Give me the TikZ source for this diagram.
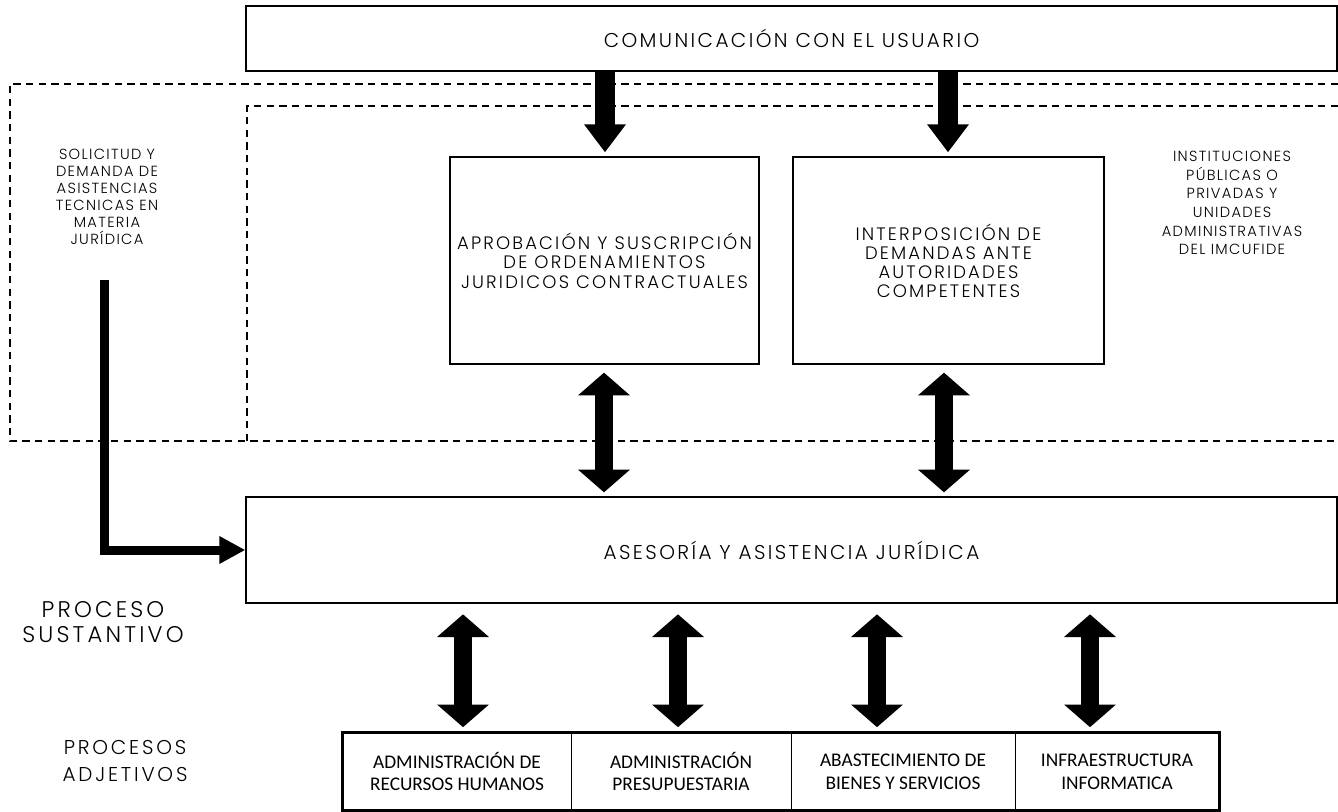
\documentclass[tikz,border=0pt]{standalone}
\usepackage{fontspec}
\setmainfont{Poppins}
\newfontfamily\geotop{Poppins Light}[LetterSpace=12.0]
\newfontfamily\geobox{Poppins Light}[LetterSpace=12.0]
\newfontfamily\geo{Poppins Light}[LetterSpace=9.0]
\newfontfamily\geobig{Poppins Light}[LetterSpace=14.0]
\newfontfamily\gill{Carlito}
\usetikzlibrary{arrows.meta}
\begin{document}
\begin{tikzpicture}[x=0.75pt,y=-0.75pt,
  box/.style={draw, line width=1pt, inner sep=0pt, align=center},
  cell/.style={draw, line width=0.7pt, inner sep=0pt, align=center,
    minimum height=57.75pt, font=\gill\fontsize{14.5}{17}\selectfont},
  lbl/.style={align=center, inner sep=0pt},
  dsh/.style={line width=0.9pt, dash pattern=on 5.5pt off 4pt},
  downarr/.style={line width=15pt, -{Triangle[width=30pt,length=21pt]}},
  dblarr/.style={line width=13.5pt, {Triangle[width=38pt,length=17pt]}-{Triangle[width=38pt,length=17pt]}},
  larr/.style={line width=6.75pt, line join=miter, -{Triangle[width=19.5pt,length=19.5pt]}}
]
\fill[white] (0,0) rectangle (1338,812);
\useasboundingbox (0,0) rectangle (1338,812);

% dashed frames
\coordinate (o1) at (10,84);
\coordinate (o2) at (1338,84);
\coordinate (o3) at (10,441);
\coordinate (o4) at (1338,441);
\coordinate (i1) at (247,106);
\coordinate (i2) at (1338,106);
\coordinate (i3) at (247,441);
\draw[dsh] (o2) -- (o1) -- (o3) -- (o4);
\draw[dsh] (i2) -- (i1) -- (i3);

% boxes
\node[box, fill=white, minimum width=818.25pt, minimum height=48.75pt,
  font=\geotop\fontsize{15}{17}\selectfont] (top) at (791.5,38.5) {COMUNICACIÓN CON EL USUARIO};
\node[box, minimum width=231.75pt, minimum height=155.25pt,
  font=\geobox\fontsize{13.5}{14.6}\selectfont] (aprob) at (604.5,260.5)
  {APROBACIÓN Y SUSCRIPCIÓN\\DE ORDENAMIENTOS\\JURIDICOS CONTRACTUALES};
\node[box, minimum width=233.25pt, minimum height=155.25pt,
  font=\geobox\fontsize{13.5}{14.3}\selectfont] (interp) at (948.5,260.5)
  {INTERPOSICIÓN DE\\DEMANDAS ANTE\\AUTORIDADES\\COMPETENTES};
\node[box, fill=white, minimum width=818.25pt, minimum height=79.5pt,
  font=\geotop\fontsize{15}{17}\selectfont] (ases) at (791.5,550) {ASESORÍA Y ASISTENCIA JURÍDICA};

% side labels
\node[lbl, font=\geo\fontsize{11}{14}\selectfont] (inst) at (1232,203)
  {INSTITUCIONES\\PÚBLICAS O\\PRIVADAS Y\\UNIDADES\\ADMINISTRATIVAS\\DEL IMCUFIDE};
\node[lbl, font=\geo\fontsize{11}{12.75}\selectfont] (soli) at (107,197)
  {SOLICITUD Y\\DEMANDA DE\\ASISTENCIAS\\TECNICAS EN\\MATERIA\\JURÍDICA};
\node[lbl, font=\geobig\fontsize{17}{19}\selectfont] (sust) at (103,622) {PROCESO\\SUSTANTIVO};
\node[lbl, font=\geobig\fontsize{15}{20}\selectfont] (adj) at (125,761) {PROCESOS\\ADJETIVOS};

% bottom cells
\node[cell, minimum width=171pt] (c1) at (457,771.5) {ADMINISTRACIÓN DE\\RECURSOS HUMANOS};
\node[cell, minimum width=165pt] (c2) at (681,771.5) {ADMINISTRACIÓN\\PRESUPUESTARIA};
\node[cell, minimum width=168pt] (c3) at (903,771.5) {ABASTECIMIENTO DE\\BIENES Y SERVICIOS};
\node[cell, minimum width=153pt] (c4) at (1117,771.5) {INFRAESTRUCTURA\\INFORMATICA};
\draw[line width=2pt] (c1.north west) rectangle (c4.south east);

% down arrows
\coordinate (a1) at (605,0);
\coordinate (a2) at (948,0);
\draw[downarr] (top.south -| a1) -- ([yshift=3pt]aprob.north -| a1);
\draw[downarr] (top.south -| a2) -- ([yshift=3pt]interp.north -| a2);

% double arrows upper
\coordinate (d1) at (604,0);
\coordinate (d2) at (944,0);
\draw[dblarr] ([yshift=-6pt]aprob.south -| d1) -- ([yshift=3pt]ases.north -| d1);
\draw[dblarr] ([yshift=-6pt]interp.south -| d2) -- ([yshift=3pt]ases.north -| d2);

% double arrows lower
\coordinate (b1) at (463,0);
\coordinate (b2) at (678,0);
\coordinate (b3) at (877,0);
\coordinate (b4) at (1090,0);
\draw[dblarr] ([yshift=-8pt]ases.south -| b1) -- ([yshift=4pt]c1.north -| b1);
\draw[dblarr] ([yshift=-8pt]ases.south -| b2) -- ([yshift=4pt]c2.north -| b2);
\draw[dblarr] ([yshift=-8pt]ases.south -| b3) -- ([yshift=4pt]c3.north -| b3);
\draw[dblarr] ([yshift=-8pt]ases.south -| b4) -- ([yshift=4pt]c4.north -| b4);

% L arrow
\coordinate (ls) at (104,280);
\draw[larr] (ls) |- (ases.west);
\end{tikzpicture}
\end{document}
